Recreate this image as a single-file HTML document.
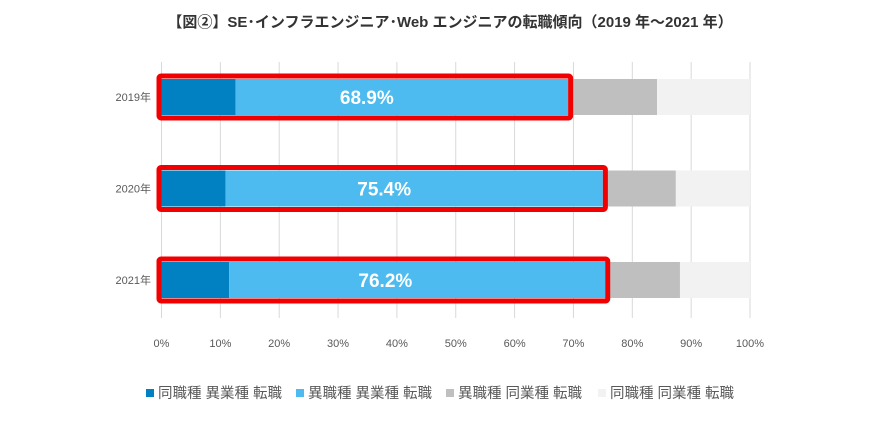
<!DOCTYPE html>
<html><head><meta charset="utf-8"><style>
body{margin:0;background:#fff;font-family:"Liberation Sans","Noto Sans CJK JP",sans-serif;}
svg text{font-family:"Liberation Sans","Noto Sans CJK JP",sans-serif;}
</style></head><body>
<svg id="chart" width="874" height="421">
<text x="450" y="27" text-anchor="middle" font-size="15" font-weight="bold" fill="#333">【図②】SE･インフラエンジニア･Web エンジニアの転職傾向（2019 年～2021 年）</text>
<g id="grid"></g><g id="bars"></g><g id="labels"></g><g id="legend"></g>
</svg>
<script>
const categories=["2019年","2020年","2021年"];
const sameJobDiffInd=[12.6,10.9,11.5];
const diffJobDiffInd=[56.5,64.1,63.9];
const diffJobSameInd=[15.1,12.4,12.7];
const sameJobSameInd=[15.8,12.6,11.9];
const highlight=["68.9%","75.4%","76.2%"];
const ticks=[0,10,20,30,40,50,60,70,80,90,100];
const seriesNames=["同職種 異業種 転職","異職種 異業種 転職","異職種 同業種 転職","同職種 同業種 転職"];
const colors=["#0180c2","#4dbbef","#bfbfbf","#f2f2f2"];
const NS="http://www.w3.org/2000/svg";
const x0=161.5,x1=750;
const xs=v=>x0+(x1-x0)*v/100;
const yc=i=>97+i*91.5;
function mk(p,tag,a,t){const e=document.createElementNS(NS,tag);for(const k in a)e.setAttribute(k,a[k]);if(t!=null)e.textContent=t;document.getElementById(p).appendChild(e);return e;}
ticks.forEach(t=>{
 const l=mk("grid","line",{x1:xs(t),x2:xs(t),y1:62,y2:318,stroke:"#d9d9d9","stroke-width":1});
 
 
 const tx=mk("labels","text",{x:xs(t),y:347,"text-anchor":"middle","font-size":11,fill:"#595959"},t+"%");
 
 
});
const series=[sameJobDiffInd,diffJobDiffInd,diffJobSameInd,sameJobSameInd];
categories.forEach((c,i)=>{
 let acc=0;const y=yc(i)-18;
 series.forEach((s,k)=>{
  const r=mk("bars","rect",{x:xs(acc),y:y,width:xs(acc+s[i])-xs(acc),height:36,fill:colors[k]});
  
  
  acc+=s[i];
 });
 const tot=sameJobDiffInd[i]+diffJobDiffInd[i];
 const b=mk("bars","rect",{x:xs(0)-2.5,y:y-3,width:xs(tot)-xs(0)+5,height:42,fill:"none",stroke:"#f00000","stroke-width":5,rx:2});
 
 
 const v=mk("labels","text",{x:xs(tot/2)+2,y:yc(i)+7,"text-anchor":"middle","font-size":19,"font-weight":"bold",fill:"#fff"},highlight[i]);
 
 
 const cl=mk("labels","text",{x:151,y:yc(i)+4,"text-anchor":"end","font-size":11,fill:"#595959"},c);
 
 
});
const lx=[146,296,446,598];
seriesNames.forEach((n,k)=>{
 const g=mk("legend","g",{});
 
 
 const r=document.createElementNS(NS,"rect");
 r.setAttribute("x",lx[k]);r.setAttribute("y",389);r.setAttribute("width",8);r.setAttribute("height",8);r.setAttribute("fill",colors[k]);
 g.appendChild(r);
 const t=document.createElementNS(NS,"text");
 t.setAttribute("x",lx[k]+12);t.setAttribute("y",398);t.setAttribute("font-size",14.5);t.setAttribute("fill","#595959");
 t.textContent=n;g.appendChild(t);
});
</script>
</body></html>
